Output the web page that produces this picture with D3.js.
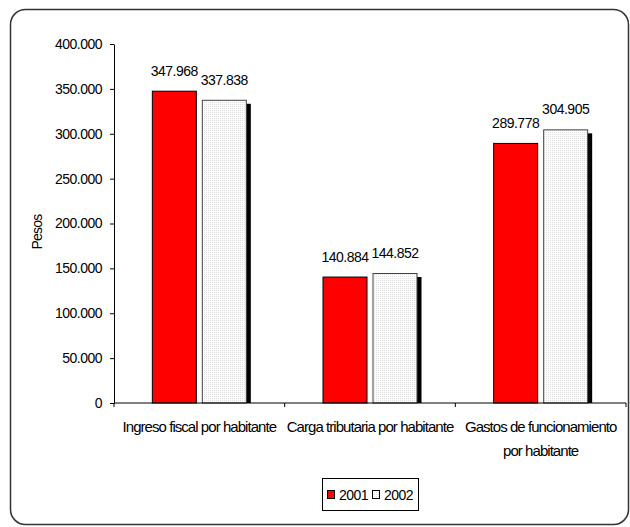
<!DOCTYPE html>
<html><head><meta charset="utf-8">
<script src="https://cdn.jsdelivr.net/npm/d3@7"></script>
<style>body{margin:0;background:#fff}svg{display:block}text{font-family:"Liberation Sans",Arial,sans-serif;fill:#000}</style>
</head><body><svg id="c" width="630" height="527"></svg>
<script>
const categories = [["Ingreso fiscal por habitante"],["Carga tributaria por habitante"],["Gastos de funcionamiento","por habitante"]];
const series = ["2001","2002"];
const values2001 = [347968, 140884, 289778];
const values2002 = [337838, 144852, 304905];
const yTicks = [0,50000,100000,150000,200000,250000,300000,350000,400000];
const fmt = v => v===0 ? "0" : d3.format(",")(v).replace(/,/g,".");

const svg = d3.select("#c");
const defs = svg.append("defs");
const pat = defs.append("pattern").attr("id","dots").attr("width",2).attr("height",2).attr("patternUnits","userSpaceOnUse");
pat.append("rect").attr("width",2).attr("height",2).attr("fill","#fdfdfd");
pat.append("rect").attr("width",1).attr("height",1).attr("fill","#dedede");

svg.append("rect").attr("x",10.5).attr("y",9.5).attr("width",618).attr("height",515).attr("rx",15)
  .attr("fill","#fff").attr("stroke","#333").attr("stroke-width",1.5);

const pLeft=114, pRight=626, pTop=44, pBottom=403;
const x = d3.scaleBand().domain(d3.range(categories.length)).range([pLeft,pRight]).paddingInner(0).paddingOuter(0);
const y = d3.scaleLinear().domain([0,400000]).range([pBottom,pTop]);
const barW = 45, gap = 5;

// y axis
const ya = svg.append("g").attr("transform",`translate(${pLeft},0)`)
  .call(d3.axisLeft(y).tickValues(yTicks).tickFormat(fmt).tickSize(4).tickSizeOuter(0).tickPadding(8));
ya.select(".domain").attr("stroke","#000");
ya.selectAll("line").attr("stroke","#000");
ya.selectAll("text").style("font-size","14px").style("letter-spacing","-0.5px").style("font-family",'"Liberation Sans",Arial,sans-serif');

svg.append("text").attr("transform",`translate(42,232) rotate(-90)`).attr("text-anchor","middle")
  .style("font-size","14px").style("letter-spacing","-0.8px").text("Pesos");

// bars
const g = svg.append("g");
categories.forEach((c,i)=>{
  const cx = x(i)+x.bandwidth()/2;
  const x1 = cx - gap/2 - barW, x2 = cx + gap/2;
  g.append("rect").attr("x",x2+4).attr("y",y(values2002[i])+4).attr("width",barW).attr("height",pBottom-y(values2002[i])-4).attr("fill","#000");
  g.append("rect").attr("x",x1+0.5).attr("y",y(values2001[i])+0.5).attr("width",barW-1).attr("height",pBottom-y(values2001[i])-0.5)
    .attr("fill","#ff0000").attr("stroke","#000").attr("stroke-width",1);
  g.append("rect").attr("x",x2+0.5).attr("y",y(values2002[i])+0.5).attr("width",barW-1).attr("height",pBottom-y(values2002[i])-0.5)
    .attr("fill","url(#dots)").attr("stroke","#444").attr("stroke-width",1);
  g.append("text").attr("x",x1+barW/2).attr("y",y(values2001[i])-15).attr("text-anchor","middle")
    .style("font-size","14px").style("letter-spacing","-0.5px").text(fmt(values2001[i]));
  g.append("text").attr("x",x2+barW/2).attr("y",y(values2002[i])-15).attr("text-anchor","middle")
    .style("font-size","14px").style("letter-spacing","-0.5px").text(fmt(values2002[i]));
});

// x axis
const xa = svg.append("g").attr("transform",`translate(0,${pBottom})`);
xa.append("line").attr("x1",pLeft).attr("x2",pRight).attr("stroke","#000");
d3.range(categories.length+1).forEach(i=>{
  const tx = pLeft + i*x.bandwidth();
  xa.append("line").attr("x1",tx).attr("x2",tx).attr("y1",0).attr("y2",4).attr("stroke","#000");
});
categories.forEach((c,i)=>{
  const cx = x(i)+x.bandwidth()/2;
  c.forEach((line,j)=>{
    xa.append("text").attr("x",cx).attr("y",29+j*24).attr("text-anchor","middle")
      .style("font-size","15px").style("letter-spacing","-0.95px").text(line);
  });
});

// legend
const lg = svg.append("g");
lg.append("rect").attr("x",322.5).attr("y",478.5).attr("width",96).attr("height",32).attr("fill","#fff").attr("stroke","#000");
const legendItems = [{s:series[0],fill:"#ff0000",x:327},{s:series[1],fill:"url(#dots)",x:372}];
legendItems.forEach(d=>{
  lg.append("rect").attr("x",d.x+0.5).attr("y",490.5).attr("width",7).attr("height",8).attr("fill",d.fill).attr("stroke","#000");
  lg.append("text").attr("x",d.x+12).attr("y",499.5).style("font-size","14px").style("letter-spacing","-0.5px").text(d.s);
});
</script></body></html>
